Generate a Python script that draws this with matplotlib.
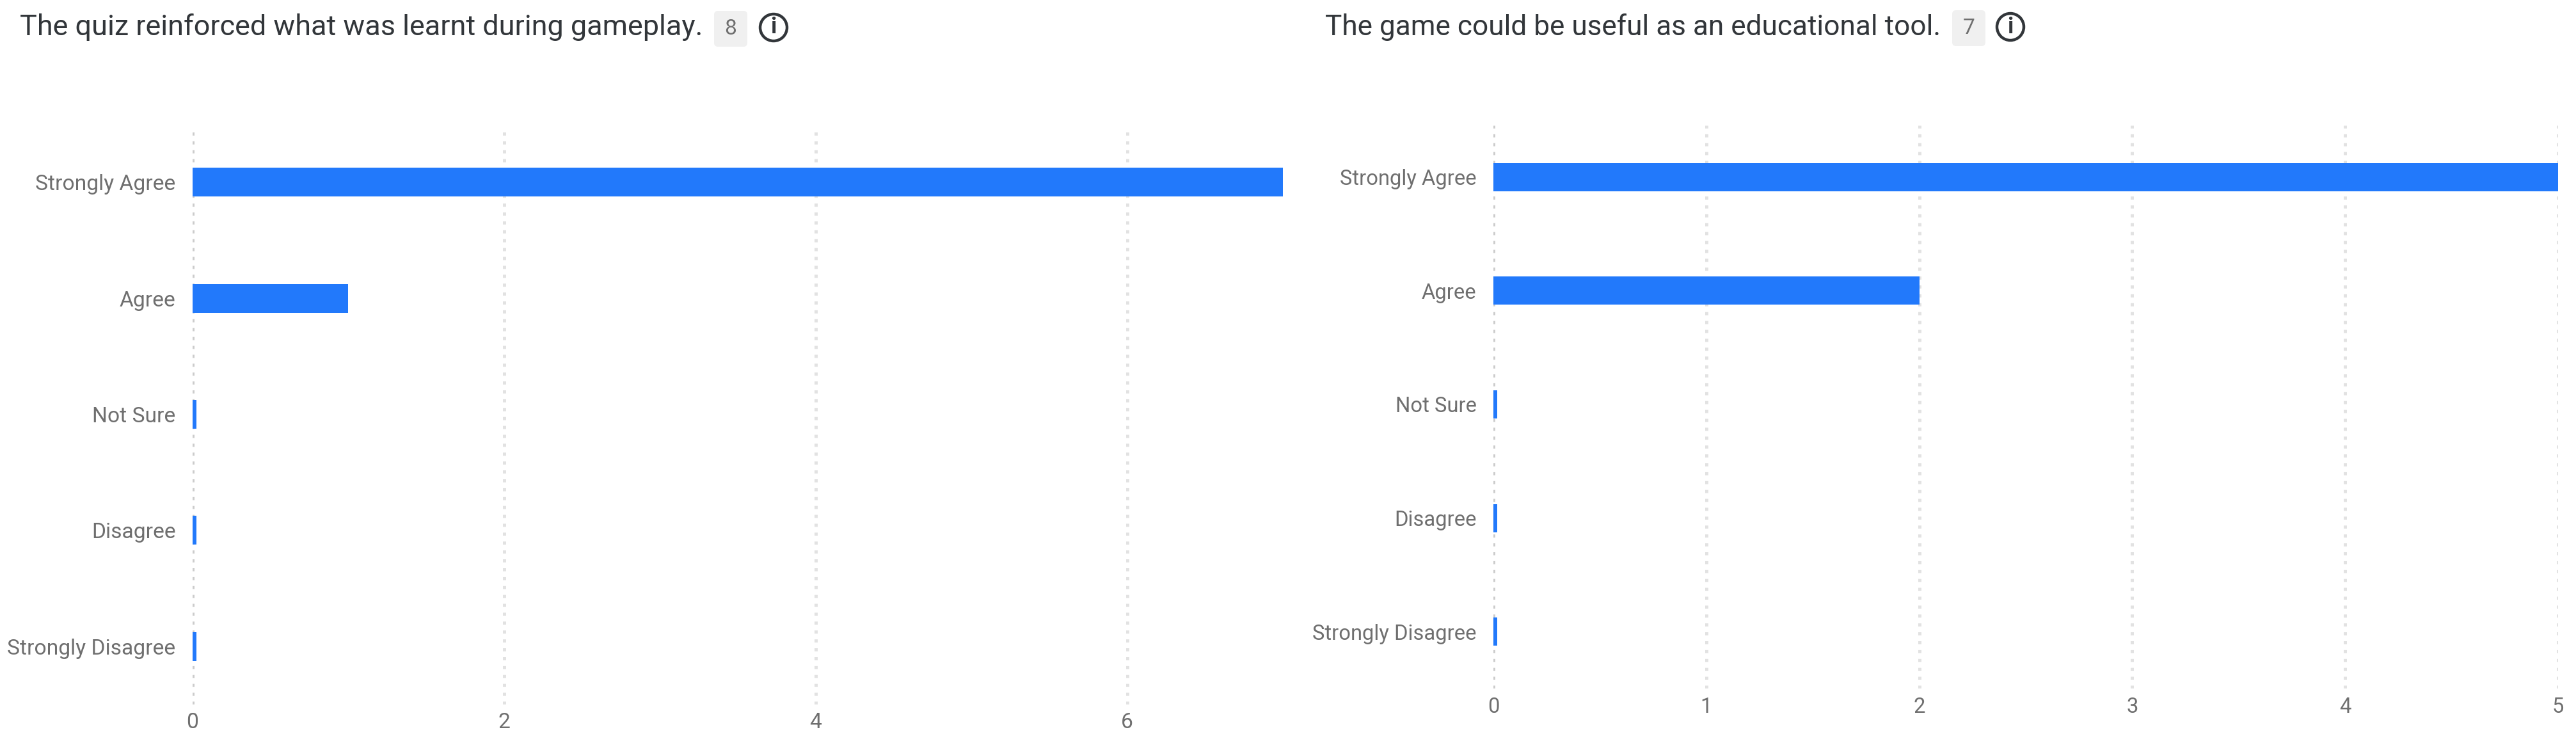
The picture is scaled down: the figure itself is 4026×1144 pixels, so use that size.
import matplotlib
matplotlib.use('Agg')
import matplotlib.pyplot as plt
from matplotlib.patches import Circle, FancyBboxPatch

W, H = 4026, 1144

categories = ['Strongly Agree', 'Agree', 'Not Sure', 'Disagree', 'Strongly Disagree']
quiz_counts = [7, 1, 0, 0, 0]
game_counts = [5, 2, 0, 0, 0]
quiz_ticks = [0, 2, 4, 6]
game_ticks = [0, 1, 2, 3, 4, 5]

plt.rcParams['font.family'] = ['Roboto', 'DejaVu Sans']

BLUE = '#2279fb'
GREY = '#6f6f6f'
DARK = '#32363a'


def px_axes(x0, x1, y0, y1):
    return fig.add_axes([x0 / W, 1 - y1 / H, (x1 - x0) / W, (y1 - y0) / H])


def draw_panel(ax, counts, ticks, xmax, bar_px, band_px, label_size):
    ax.set_xlim(0, xmax)
    # axes starts at the first grid dot, a little below the top of the first band
    ax.set_ylim(len(counts) - 0.5, -0.5 + 8 / band_px)
    # zero answers still get a thin sliver of bar, like the original
    unit_px = ax.get_window_extent().width / xmax
    shown = [max(c, 6 / unit_px) for c in counts]
    ax.barh(range(len(counts)), shown, height=bar_px / band_px, color=BLUE, zorder=3)
    ax.set_xticks(ticks)
    ax.set_yticks(range(len(counts)))
    ax.set_yticklabels(categories)
    ax.tick_params(axis='both', length=0, labelcolor=GREY, labelsize=label_size)
    ax.tick_params(axis='x', pad=9)
    ax.tick_params(axis='y', pad=19)
    ax.grid(axis='x', color='#e2e2e2', linewidth=3.6, linestyle=(0, (1, 1.78)))
    ax.get_xgridlines()[0].set_color('#cccccc')
    ax.set_axisbelow(True)
    for s in ax.spines.values():
        s.set_visible(False)
    ax.patch.set_alpha(0)


def draw_header(title, count, tx, ty, size, badge_x, badge_y, icon_x):
    ov = fig.add_axes([0, 0, 1, 1])
    ov.set_xlim(0, W)
    ov.set_ylim(H, 0)
    ov.axis('off')
    ov.patch.set_alpha(0)
    ov.text(tx, ty, title, fontsize=size, color=DARK, va='center', ha='left')
    ov.add_patch(FancyBboxPatch((badge_x + 6, badge_y - 22), 40, 44,
                                boxstyle='round,pad=6', fc='#f0f0f0', ec='none'))
    ov.text(badge_x + 26, badge_y, str(count), fontsize=24.2, color=GREY, va='center', ha='center')
    ov.add_patch(Circle((icon_x, ty), 21, fc='none', ec=DARK, lw=3.2))
    ov.text(icon_x, ty, 'i', fontsize=25, color=DARK, va='center', ha='center', fontweight='bold')


fig = plt.figure(figsize=(W / 100, H / 100), dpi=100, facecolor='white')

ax1 = px_axes(301, 2005, 202, 1101)
draw_panel(ax1, quiz_counts, quiz_ticks, 7, 45, 181.5, 24.2)
ax2 = px_axes(2334, 3998, 196, 1076)
draw_panel(ax2, game_counts, game_ticks, 5, 44, 177.5, 23.6)

draw_header('The quiz reinforced what was learnt during gameplay.', 8, 31, 43, 32.4, 1116, 45, 1209)
draw_header('The game could be useful as an educational tool.', 7, 2071, 42, 31.8, 3051, 44, 3142)

fig.savefig('out.png', dpi=100)
